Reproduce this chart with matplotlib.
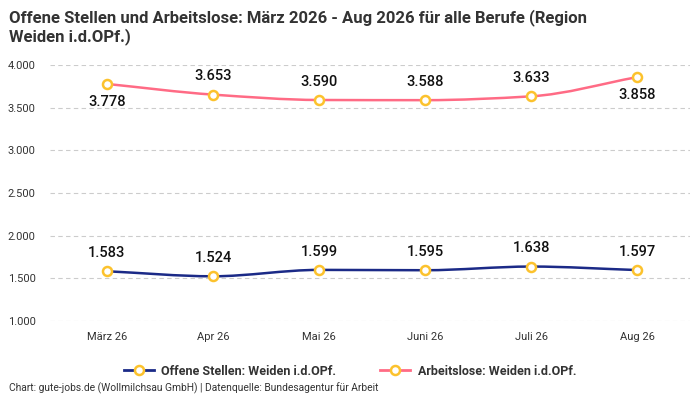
import matplotlib.pyplot as plt
import numpy as np
from matplotlib.path import Path
from matplotlib.patches import PathPatch
from matplotlib.lines import Line2D

plt.rcParams['font.family'] = ['Roboto', 'DejaVu Sans']

months = ["März 26", "Apr 26", "Mai 26", "Juni 26", "Juli 26", "Aug 26"]
offene = [1583, 1524, 1599, 1595, 1638, 1597]
arbeitslose = [3778, 3653, 3590, 3588, 3633, 3858]
# label above (+) or below (-) the point
arbeitslose_pos = [-1, 1, 1, 1, 1, -1]
offene_pos = [1, 1, 1, 1, 1, 1]

blue = "#1b2a87"
pink = "#ff6b85"
yellow = "#fcc22d"


def de(v):
    return f"{v:,.0f}".replace(",", ".")


def smooth_path(x, y):
    # monotone cubic (Fritsch-Carlson) drawn as bezier segments
    x = np.asarray(x, float)
    y = np.asarray(y, float)
    n = len(x)
    h = np.diff(x)
    d = np.diff(y) / h
    m = np.zeros(n)
    m[0], m[-1] = d[0], d[-1]
    for i in range(1, n - 1):
        if d[i - 1] * d[i] <= 0:
            m[i] = 0
        else:
            m[i] = 3 * (h[i - 1] + h[i]) / ((2 * h[i] + h[i - 1]) / d[i - 1] + (h[i] + 2 * h[i - 1]) / d[i])
    verts = [(x[0], y[0])]
    codes = [Path.MOVETO]
    for i in range(n - 1):
        verts += [(x[i] + h[i] / 3, y[i] + m[i] * h[i] / 3),
                  (x[i + 1] - h[i] / 3, y[i + 1] - m[i + 1] * h[i] / 3),
                  (x[i + 1], y[i + 1])]
        codes += [Path.CURVE4] * 3
    return Path(verts, codes)


fig = plt.figure(figsize=(7, 4), dpi=100)
ax = fig.add_axes([0.071, 0.1975, 0.915, 0.64])

xs = np.arange(len(months))
for vals, col, pos in [(offene, blue, offene_pos), (arbeitslose, pink, arbeitslose_pos)]:
    ax.add_patch(PathPatch(smooth_path(xs, vals), facecolor="none", edgecolor=col, lw=1.8, zorder=3))
    ax.plot(xs, vals, ls="none", marker="o", ms=6.5, mfc="white", mec=yellow, mew=1.8, zorder=4)
    for xi, v, p in zip(xs, vals, pos):
        ax.annotate(de(v), (xi, v), xytext=(0, 8 if p > 0 else -8), textcoords="offset points",
                    ha="center", va="bottom" if p > 0 else "top", fontsize=10.5,
                    fontweight="medium", color="#111111", zorder=5)

ax.set_xlim(-0.54, 5.5)
ax.set_ylim(1000, 4000)
ax.set_yticks([1000, 1500, 2000, 2500, 3000, 3500, 4000])
ax.set_yticklabels([de(v) for v in ax.get_yticks()])
ax.set_xticks(xs)
ax.set_xticklabels(months)
ax.tick_params(length=0, labelsize=8, colors="#333333", pad=8)
ax.tick_params(axis="y", pad=10)
ax.grid(axis="y", ls=(0, (4, 3)), color="#cccccc", lw=0.8)
ax.set_axisbelow(True)
for s in ax.spines.values():
    s.set_visible(False)

fig.text(0.013, 0.978, "Offene Stellen und Arbeitslose: März 2026 - Aug 2026 für alle Berufe (Region\nWeiden i.d.OPf.)",
         ha="left", va="top", fontsize=12, fontweight="bold", color="#333333", linespacing=1.2)

handles = [Line2D([], [], color=blue, lw=2, marker="o", ms=6.5, mfc="white", mec=yellow, mew=1.8),
           Line2D([], [], color=pink, lw=2, marker="o", ms=6.5, mfc="white", mec=yellow, mew=1.8)]
fig.legend(handles, ["Offene Stellen: Weiden i.d.OPf.", "Arbeitslose: Weiden i.d.OPf."],
           loc="center", bbox_to_anchor=(0.5, 0.072), ncol=2, frameon=False,
           prop={"weight": "bold", "size": 9}, labelcolor="#333333", columnspacing=3.5,
           handlelength=2.4, handletextpad=0.6)

fig.text(0.013, 0.016, "Chart: gute-jobs.de (Wollmilchsau GmbH) | Datenquelle: Bundesagentur für Arbeit",
         ha="left", va="bottom", fontsize=7.4, color="#333333")

fig.savefig("out.png", dpi=100)
